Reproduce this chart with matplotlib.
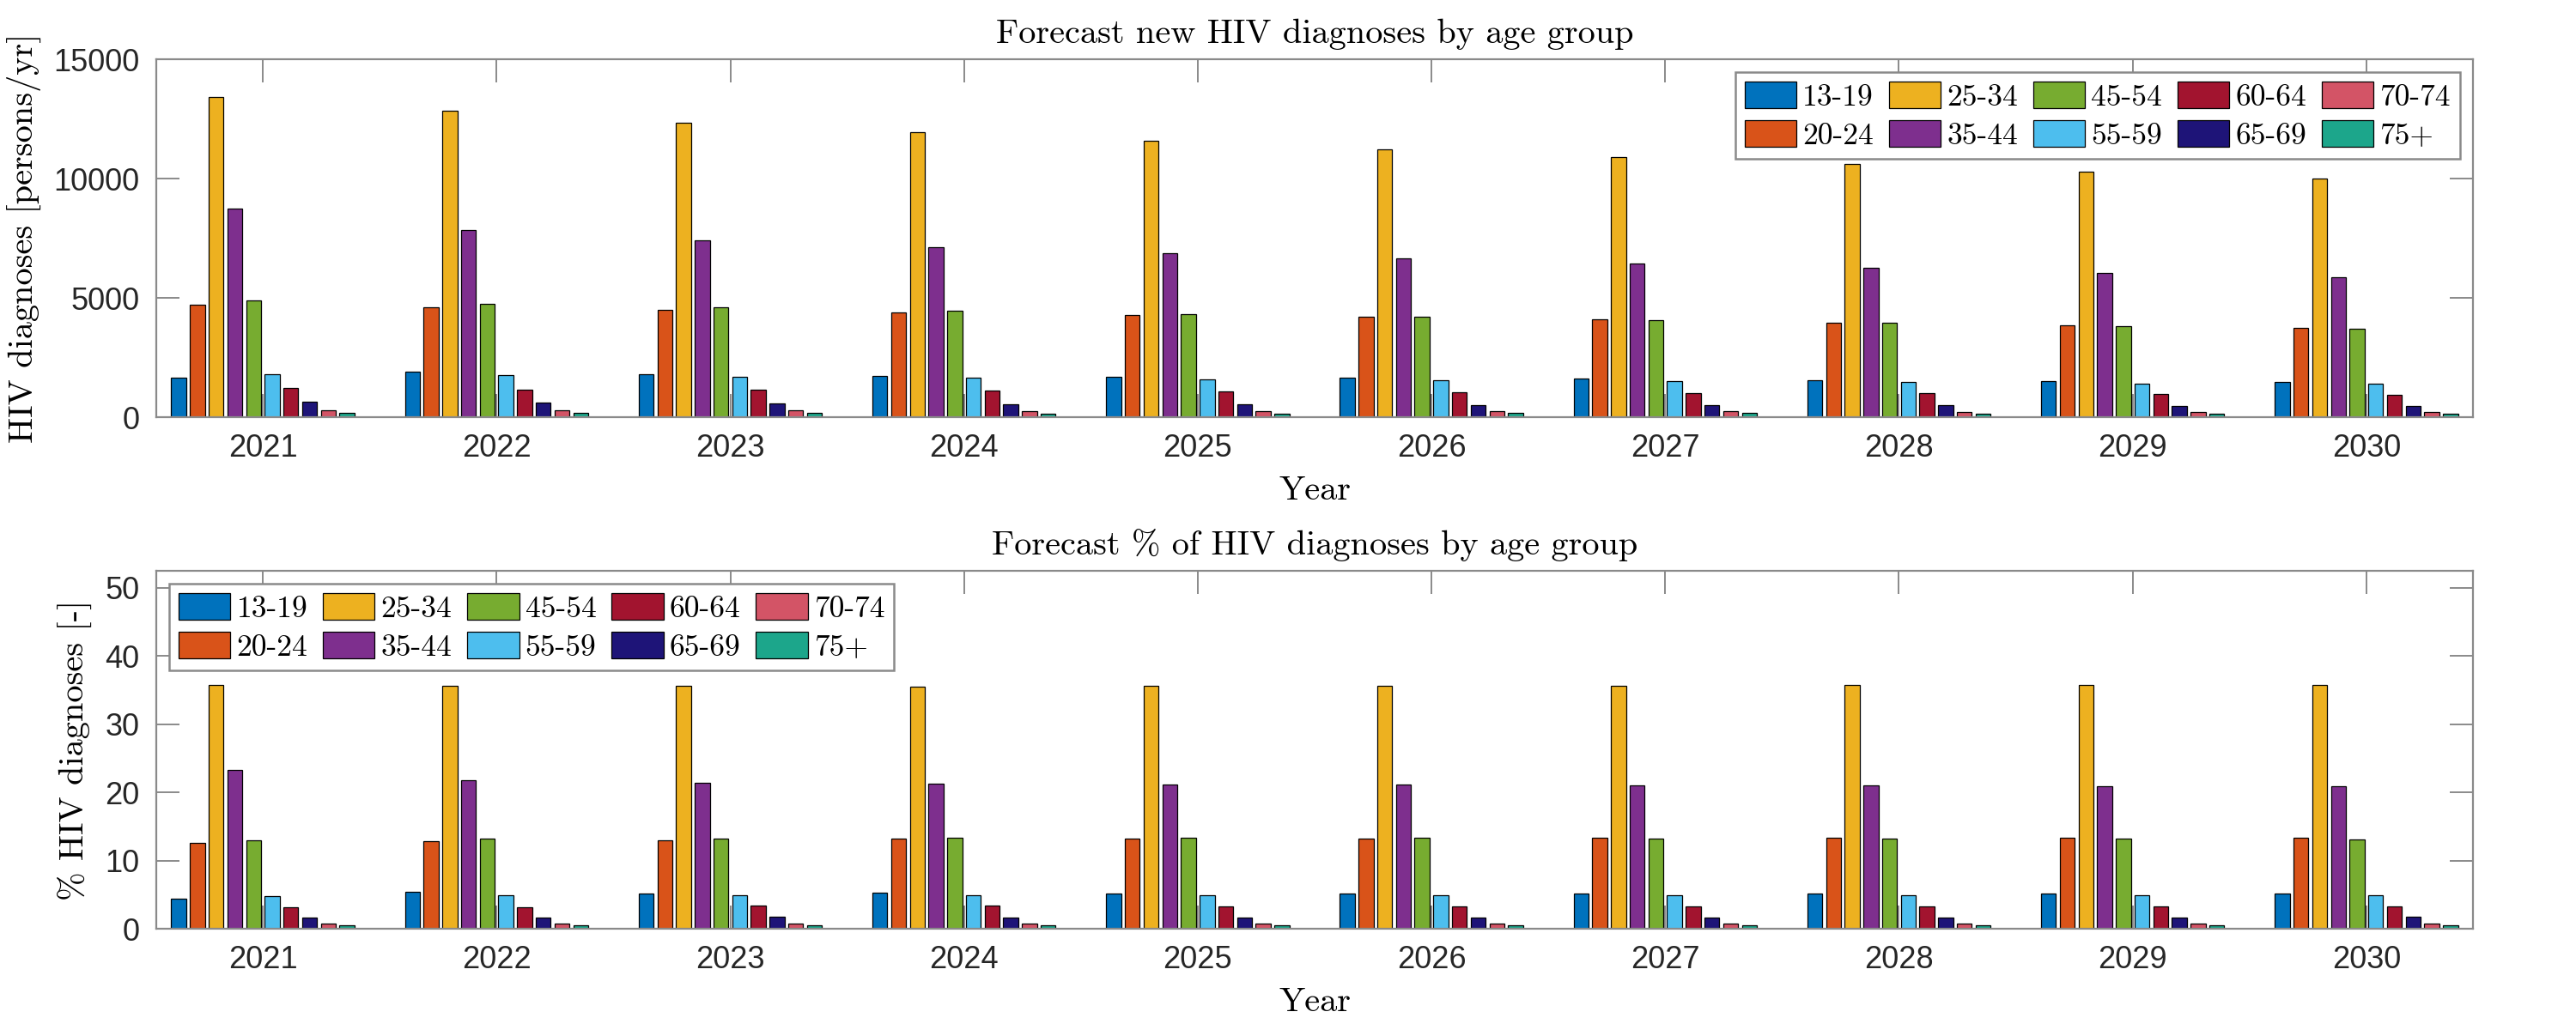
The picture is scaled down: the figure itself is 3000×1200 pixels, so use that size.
import numpy as np
import matplotlib
matplotlib.use("Agg")
import matplotlib.pyplot as plt

# ---------------- data ----------------
years = [2021, 2022, 2023, 2024, 2025, 2026, 2027, 2028, 2029, 2030]
age_groups = ['13-19', '20-24', '25-34', '35-44', '45-54',
              '55-59', '60-64', '65-69', '70-74', '75+']

# new diagnoses per year (persons/yr), one list per age group
d_13_19 = [1640, 1910, 1790, 1740, 1690, 1650, 1610, 1560, 1510, 1460]
d_20_24 = [4730, 4610, 4480, 4400, 4290, 4200, 4090, 3960, 3850, 3740]
d_25_34 = [13430, 12830, 12340, 11950, 11580, 11230, 10900, 10600, 10290, 10000]
d_35_44 = [8750, 7830, 7400, 7130, 6870, 6650, 6450, 6250, 6050, 5860]
d_45_54 = [4910, 4760, 4590, 4460, 4330, 4200, 4070, 3940, 3810, 3690]
d_55_59 = [1800, 1750, 1690, 1640, 1590, 1560, 1510, 1470, 1420, 1390]
d_60_64 = [1210, 1140, 1160, 1100, 1080, 1060, 1020, 990, 960, 920]
d_65_69 = [630, 610, 560, 550, 530, 520, 510, 500, 480, 480]
d_70_74 = [290, 290, 280, 260, 260, 260, 250, 230, 230, 230]
d_75p = [190, 190, 170, 160, 160, 170, 170, 160, 160, 150]

# percentage of diagnoses (%), one list per age group
p_13_19 = [4.35, 5.37, 5.20, 5.24, 5.22, 5.22, 5.22, 5.21, 5.21, 5.21]
p_20_24 = [12.55, 12.80, 12.97, 13.17, 13.22, 13.27, 13.32, 13.36, 13.38, 13.38]
p_25_34 = [35.70, 35.67, 35.58, 35.53, 35.60, 35.60, 35.65, 35.70, 35.75, 35.80]
p_35_44 = [23.25, 21.77, 21.39, 21.25, 21.15, 21.10, 21.05, 21.00, 20.95, 20.90]
p_45_54 = [13.02, 13.22, 13.27, 13.30, 13.30, 13.30, 13.28, 13.24, 13.20, 13.15]
p_55_59 = [4.78, 4.85, 4.91, 4.91, 4.92, 4.93, 4.93, 4.93, 4.93, 4.95]
p_60_64 = [3.17, 3.15, 3.38, 3.36, 3.33, 3.32, 3.30, 3.28, 3.28, 3.28]
p_65_69 = [1.65, 1.66, 1.70, 1.68, 1.66, 1.66, 1.66, 1.66, 1.66, 1.70]
p_70_74 = [0.75, 0.80, 0.80, 0.78, 0.78, 0.78, 0.78, 0.78, 0.78, 0.80]
p_75p = [0.48, 0.55, 0.55, 0.53, 0.53, 0.53, 0.53, 0.53, 0.53, 0.53]

counts = [d_13_19, d_20_24, d_25_34, d_35_44, d_45_54,
          d_55_59, d_60_64, d_65_69, d_70_74, d_75p]
percents = [p_13_19, p_20_24, p_25_34, p_35_44, p_45_54,
            p_55_59, p_60_64, p_65_69, p_70_74, p_75p]

colors = ['#0072BD', '#D95319', '#EDB120', '#7E2F8E', '#77AC30',
          '#4DBEEE', '#A2142F', '#1E1478', '#D35466', '#1CA68B']

# ---------------- style ----------------
SERIF = 'cmr10'
TICKFONT = 'Liberation Sans'
AXCOL = '#8a8a8a'
plt.rcParams['axes.unicode_minus'] = False

fig = plt.figure(figsize=(15, 6), dpi=200)
ax1 = fig.add_axes([182 / 3000, 1 - 486 / 1200, (2880 - 182) / 3000, 417 / 1200])
ax2 = fig.add_axes([182 / 3000, 1 - 1082 / 1200, (2880 - 182) / 3000, 417 / 1200])

x = np.array(years, dtype=float)
nser = len(age_groups)
slot = 0.08
barw = 0.064


def draw(ax, data, ylim, yticks, ylabel, title, legloc):
    handles = []
    for i, (vals, col, lab) in enumerate(zip(data, colors, age_groups)):
        off = (i - (nser - 1) / 2) * slot
        h = ax.bar(x + off, vals, width=barw, color=col, edgecolor='black',
                   linewidth=0.45, label=lab, zorder=2)
        handles.append(h)
    ax.set_xlim(2021 - 0.456, 2030 + 0.456)
    ax.set_ylim(*ylim)
    ax.set_xticks(years)
    ax.set_xticklabels([str(y) for y in years])
    ax.set_yticks(yticks)
    ax.set_yticklabels([str(t) for t in yticks])
    ax.tick_params(axis='both', which='major', direction='in', length=9.7,
                   width=0.7, color=AXCOL, top=True, right=True,
                   labelsize=13, labelcolor='#262626', pad=7)
    for lab in ax.get_xticklabels() + ax.get_yticklabels():
        lab.set_fontfamily(TICKFONT)
    for sp in ax.spines.values():
        sp.set_color(AXCOL)
        sp.set_linewidth(0.8)
    ax.set_xlabel('Year', fontfamily=SERIF, fontsize=14.5, labelpad=5)
    ax.set_ylabel(ylabel, fontfamily=SERIF, fontsize=14.5, labelpad=5)
    ax.set_title(title, fontfamily=SERIF, fontsize=14.5, pad=7)
    leg = ax.legend(handles=handles, labels=age_groups, ncol=5, loc=legloc,
                    prop={'family': SERIF, 'size': 12.8},
                    handlelength=1.7, handleheight=0.95, handletextpad=0.2,
                    columnspacing=0.5, labelspacing=0.3, borderpad=0.3,
                    borderaxespad=0.43, fancybox=False, framealpha=1,
                    edgecolor=AXCOL)
    leg.get_frame().set_linewidth(0.9)


draw(ax1, counts, (0, 15000), [0, 5000, 10000, 15000],
     'HIV diagnoses [persons/yr]', 'Forecast new HIV diagnoses by age group',
     'upper right')
draw(ax2, percents, (0, 52.5), [0, 10, 20, 30, 40, 50],
     '% HIV diagnoses [-]', 'Forecast % of HIV diagnoses by age group',
     'upper left')

fig.savefig('out.png', dpi=200, facecolor='white')
